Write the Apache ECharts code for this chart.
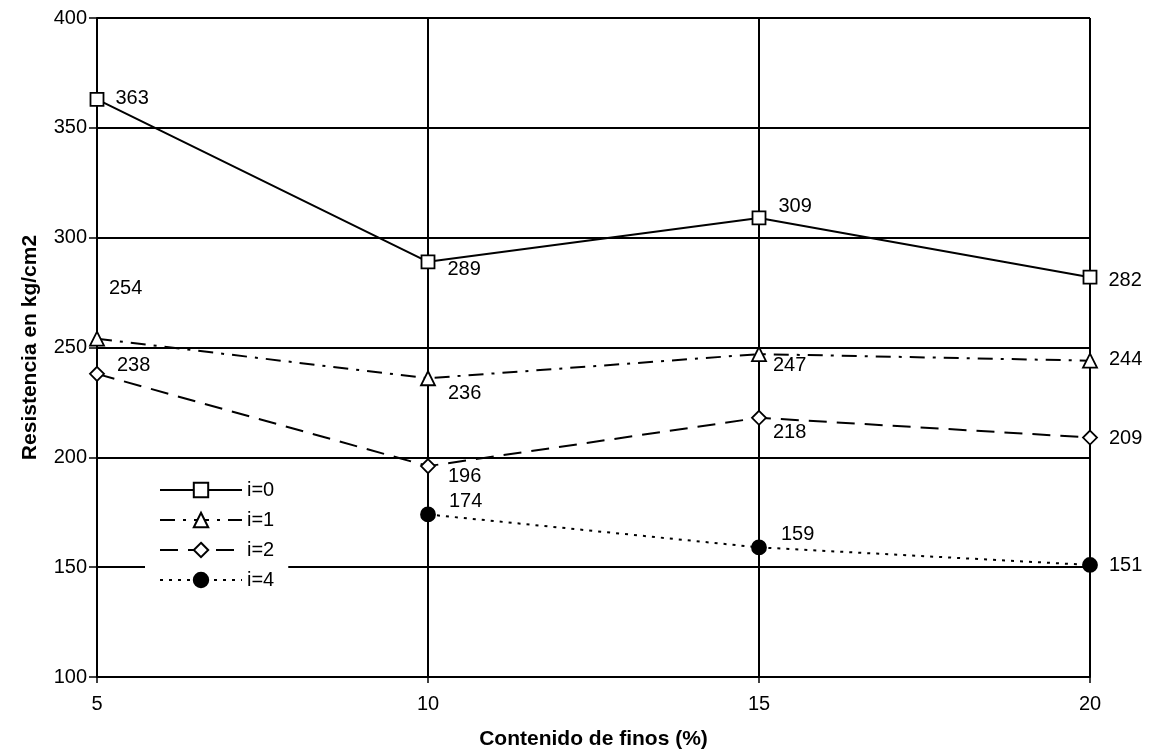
<!DOCTYPE html>
<html>
<head>
<meta charset="utf-8">
<script src="https://cdn.jsdelivr.net/npm/echarts@6/dist/echarts.min.js"></script>
<style>
  html, body { margin: 0; padding: 0; background: #fff; }
  #chart { width: 1150px; height: 756px; }
</style>
</head>
<body>
<div id="chart"></div>
<script>
// Fines content (%) on the x axis
const finos = [5, 10, 15, 20];

// Compressive strength (kg/cm2) for each series
const serieI0 = [363, 289, 309, 282];
const serieI1 = [254, 236, 247, 244];
const serieI2 = [238, 196, 218, 209];
const serieI4 = [null, 174, 159, 151];

const seriesNames = ['i=0', 'i=1', 'i=2', 'i=4'];

// Axis tick values
const yTicks = [100, 150, 200, 250, 300, 350, 400];
const xTicks = [5, 10, 15, 20];

// Label nudges per point (pixels), kept apart from the data
const labelNudge = {
  'i=0': [[5, -1], [6, 8], [6, -11], [5, 3]],
  'i=1': [[-2, -50], [6, 15], [0, 11], [5, -1]],
  'i=2': [[6, -8], [6, 10], [0, 15], [5, 1]],
  'i=4': [[0, 0], [7, -13], [8, -13], [5, 1]]
};

const styles = {
  'i=0': { symbol: 'rect', size: 13, fill: '#fff', dash: 'solid' },
  'i=1': { symbol: 'triangle', size: 14, fill: '#fff', dash: [15, 8, 3, 8] },
  'i=2': { symbol: 'diamond', size: 14, fill: '#fff', dash: [18, 10] },
  'i=4': { symbol: 'circle', size: 14, fill: '#000', dash: [3, 6] }
};

const values = { 'i=0': serieI0, 'i=1': serieI1, 'i=2': serieI2, 'i=4': serieI4 };

const FONT = 'Liberation Sans, Arial, sans-serif';

function buildSeries(name) {
  const st = styles[name];
  const data = finos.map((x, k) => {
    const v = values[name][k];
    if (v === null) return [x, null];
    return {
      value: [x, v],
      label: { offset: labelNudge[name][k] }
    };
  });
  return {
    name: name,
    type: 'line',
    data: data,
    connectNulls: false,
    symbol: st.symbol,
    symbolSize: st.size,
    showAllSymbol: true,
    lineStyle: { color: '#000', width: 2, type: st.dash },
    itemStyle: { color: st.fill, borderColor: '#000', borderWidth: 1.8 },
    label: {
      show: true,
      position: 'right',
      distance: 6,
      color: '#000',
      fontSize: 20,
      fontFamily: FONT,
      formatter: p => p.value[1]
    },
    emphasis: { disabled: true },
    animation: false,
    z: 3
  };
}

const chart = echarts.init(document.getElementById('chart'));
chart.setOption({
  backgroundColor: '#fff',
  animation: false,
  grid: { left: 97, right: 60, top: 18, bottom: 79, containLabel: false },
  xAxis: {
    type: 'value',
    min: xTicks[0],
    max: xTicks[xTicks.length - 1],
    interval: 5,
    name: 'Contenido de finos (%)',
    nameLocation: 'middle',
    nameGap: 52,
    nameTextStyle: { color: '#000', fontSize: 21, fontWeight: 'bold', fontFamily: FONT },
    axisLine: { show: true, lineStyle: { color: '#000', width: 2 } },
    axisTick: { show: true, length: 6, inside: false, lineStyle: { color: '#000', width: 1.5 } },
    axisLabel: { color: '#000', fontSize: 20, fontFamily: FONT, margin: 17 },
    splitLine: { show: true, lineStyle: { color: '#000', width: 2 } }
  },
  yAxis: {
    type: 'value',
    min: yTicks[0],
    max: yTicks[yTicks.length - 1],
    interval: 50,
    name: 'Resistencia en kg/cm2',
    nameLocation: 'middle',
    nameGap: 56,
    nameRotate: 90,
    nameTextStyle: { color: '#000', fontSize: 21, fontWeight: 'bold', fontFamily: FONT },
    axisLine: { show: true, lineStyle: { color: '#000', width: 2 } },
    axisTick: { show: true, length: 8, lineStyle: { color: '#000', width: 1.5 } },
    axisLabel: { color: '#000', fontSize: 20, fontFamily: FONT, margin: 10 },
    splitLine: { show: true, lineStyle: { color: '#000', width: 2 } }
  },
  legend: {
    orient: 'vertical',
    left: 145,
    top: 474,
    padding: [6, 14, 6, 14],
    itemGap: 10,
    itemWidth: 82,
    itemHeight: 18,
    backgroundColor: '#fff',
    textStyle: { color: '#000', fontSize: 20, fontFamily: FONT },
    data: seriesNames
  },
  series: seriesNames.map(buildSeries)
});
</script>
</body>
</html>
